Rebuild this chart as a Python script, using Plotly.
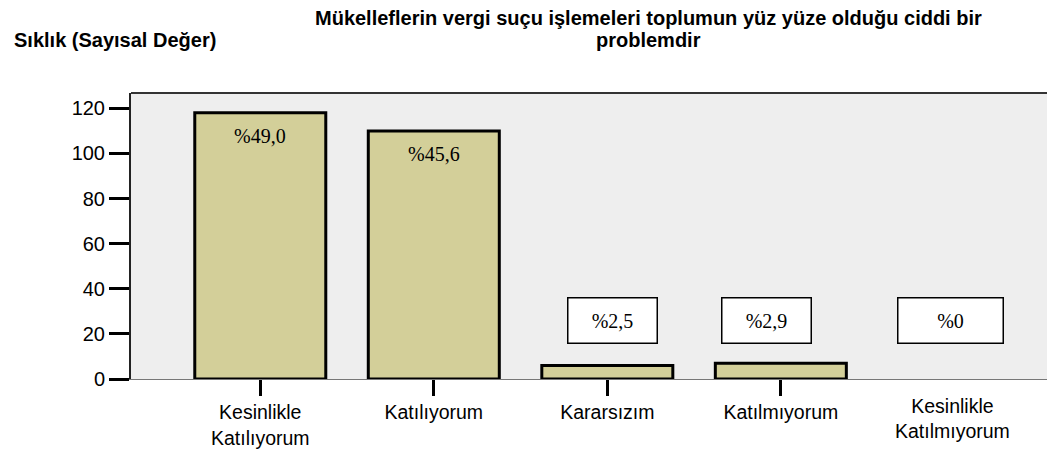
import plotly.graph_objects as go

categories = ["Kesinlikle<br>Katılıyorum", "Katılıyorum", "Kararsızım", "Katılmıyorum", "Kesinlikle<br>Katılmıyorum"]
counts = [118, 110, 6, 7, 0]
percent_labels = ["%49,0", "%45,6", "%2,5", "%2,9", "%0"]
y_ticks = [0, 20, 40, 60, 80, 100, 120]

title_line1 = "Mükelleflerin vergi suçu işlemeleri toplumun yüz yüze olduğu ciddi bir"
title_line2 = "problemdir"
y_title = "Sıklık (Sayısal Değer)"

idx = list(range(len(categories)))
SANS = "Liberation Sans, Arial, sans-serif"
SERIF = "Liberation Serif, Times New Roman, serif"

fig = go.Figure()
fig.add_trace(go.Bar(
    x=idx, y=counts, width=0.755,
    marker=dict(color="#d3cf99",
                line=dict(color="black", width=[3 if c > 0 else 0 for c in counts])),
    hoverinfo="skip",
))

annotations = []
# percentage labels
box_shift = {2: 5, 3: -14.5, 4: -4}
for i, (c, p) in enumerate(zip(counts, percent_labels)):
    if c > 50:
        annotations.append(dict(x=i, y=c, xref="x", yref="y", text=p, showarrow=False,
                                yanchor="middle", yshift=-23,
                                font=dict(family=SERIF, size=20, color="black")))
    else:
        w = 104 if i == 4 else 88
        annotations.append(dict(x=i, y=26, xref="x", yref="y", text=p, showarrow=False,
                                xshift=box_shift[i], width=w, height=44, borderpad=0,
                                bgcolor="white", bordercolor="black", borderwidth=1.5,
                                font=dict(family=SERIF, size=20, color="black")))

# last category label (no tick)
annotations.append(dict(x=4, y=0, xref="x", yref="paper", text=categories[4], showarrow=False,
                        yanchor="middle", yshift=-39, xshift=-2,
                        font=dict(family=SANS, size=19.5, color="black")))
# y axis title
annotations.append(dict(x=0, y=1, xref="paper", yref="paper", text="<b>" + y_title + "</b>",
                        showarrow=False, xanchor="left", yanchor="middle", xshift=-119, yshift=53.5,
                        font=dict(family=SANS, size=20, color="black")))
# chart title (two lines)
annotations.append(dict(x=0, y=1, xref="paper", yref="paper", text="<b>" + title_line1 + "</b>",
                        showarrow=False, xanchor="center", yanchor="middle", xshift=517, yshift=75.5,
                        font=dict(family=SANS, size=20, color="black")))
annotations.append(dict(x=0, y=1, xref="paper", yref="paper", text="<b>" + title_line2 + "</b>",
                        showarrow=False, xanchor="center", yanchor="middle", xshift=517, yshift=53.5,
                        font=dict(family=SANS, size=20, color="black")))

fig.update_layout(
    width=1047, height=446,
    margin=dict(l=123, r=0, t=85, b=75, autoexpand=False),
    paper_bgcolor="white", plot_bgcolor="#eeeeee",
    showlegend=False,
    annotations=annotations,
    xaxis=dict(range=[-0.745, 4.58], tickvals=idx[:4], ticktext=categories[:4],
               ticks="outside", ticklen=16, tickwidth=3, tickcolor="black",
               showgrid=False, zeroline=False, showline=True, linecolor="#777777", linewidth=1,
               mirror=False, tickfont=dict(family=SANS, size=19.5, color="black")),
    yaxis=dict(range=[0, 126.8], tickvals=y_ticks,
               ticks="outside", ticklen=20, tickwidth=3, tickcolor="black",
               showgrid=False, zeroline=False, showline=True, linecolor="#222222", linewidth=2,
               tickfont=dict(family=SANS, size=20, color="black")),
)
fig.add_shape(type="line", xref="paper", yref="paper", x0=0, x1=1, y0=1, y1=1,
              line=dict(color="#333333", width=2))

fig.write_html("out.html")
